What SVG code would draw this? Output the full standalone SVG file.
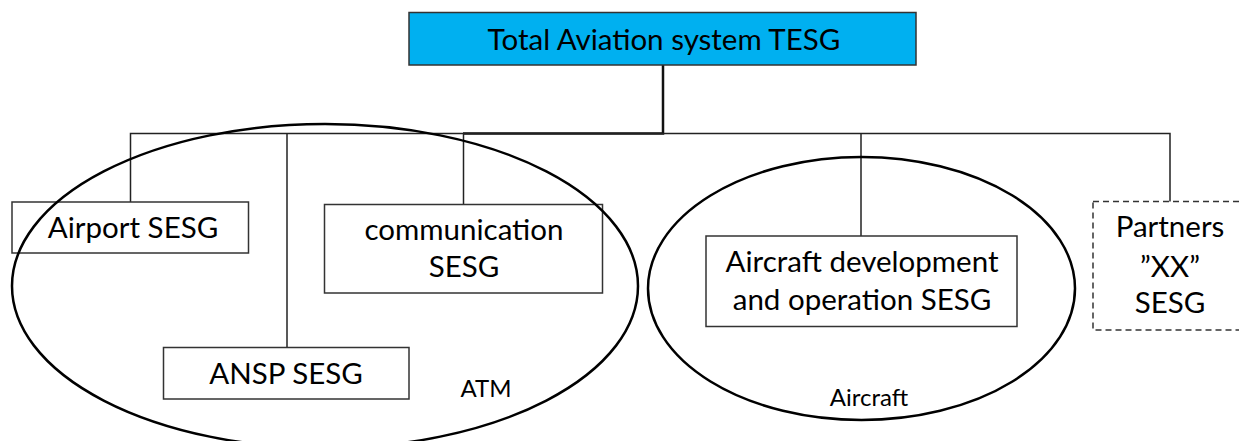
<svg xmlns="http://www.w3.org/2000/svg" width="1239" height="441" viewBox="0 0 1239 441">
<style>
  .box { fill: #ffffff; stroke: #333333; stroke-width: 1.5; }
  .title { fill: #00B0F0; stroke: #333333; stroke-width: 1.5; }
  .dash { fill: #ffffff; stroke: #333333; stroke-width: 1.5; stroke-dasharray: 6 4; }
  .ell { fill: none; stroke: #000000; stroke-width: 2.5; }
  .conn { fill: none; stroke: #222222; stroke-width: 1.5; }
  .stem { fill: none; stroke: #111111; stroke-width: 2.5; }
  text { font-family: Lato, "Liberation Sans", sans-serif; fill: #000000; text-anchor: middle; }
  .lg { font-size: 29.5px; }
  .sm { font-size: 24px; }
</style>
<g id="connectors">
  <path class="stem" d="M663 65 V133.5 H463"/>
  <path class="conn" d="M130.5 202 V133.5 H663"/>
  <path class="conn" d="M663 133.5 H1170 V202"/>
  <path class="conn" d="M287 347 V133.5"/>
  <path class="conn" d="M463.5 204 V133.5"/>
  <path class="conn" d="M861 236 V133.5"/>
</g>
<g id="top">
  <rect class="title" x="409" y="12.5" width="507" height="52.5"/>
  <text class="lg" x="664" y="50">Total Aviation system TESG</text>
</g>
<g id="airport">
  <rect class="box" x="12" y="202" width="236.5" height="51"/>
  <text class="lg" x="133" y="238">Airport SESG</text>
</g>
<g id="communication">
  <rect class="box" x="324.5" y="204.5" width="278" height="88.5"/>
  <text class="lg" x="464" y="240">communication</text>
  <text class="lg" x="464" y="277">SESG</text>
</g>
<g id="ansp">
  <rect class="box" x="163.5" y="347.5" width="245.5" height="51.5"/>
  <text class="lg" x="286" y="384">ANSP SESG</text>
</g>
<g id="atm">
  <ellipse class="ell" cx="325" cy="286" rx="313" ry="162"/>
  <text class="sm" x="486" y="397">ATM</text>
</g>
<g id="aircraft-dev">
  <rect class="box" x="706" y="236" width="311" height="90.5"/>
  <text class="lg" x="862" y="272">Aircraft development</text>
  <text class="lg" x="862" y="310">and operation SESG</text>
</g>
<g id="aircraft">
  <ellipse class="ell" cx="861.5" cy="288.5" rx="213.5" ry="131.5"/>
  <text class="sm" x="869" y="406">Aircraft</text>
</g>
<g id="partners">
  <rect class="dash" x="1093" y="201.5" width="160" height="128.5"/>
  <text class="lg" x="1170" y="237">Partners</text>
  <text class="lg" x="1170" y="277">”XX”</text>
  <text class="lg" x="1170" y="313">SESG</text>
</g>
</svg>
